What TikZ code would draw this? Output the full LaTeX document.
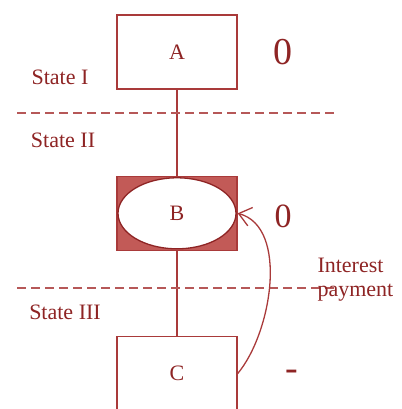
\documentclass[tikz,border=0pt]{standalone}
\usepackage{fontspec}
\setmainfont{Liberation Serif}
\usetikzlibrary{arrows.meta,positioning,shapes.geometric}
\definecolor{wine}{HTML}{A93A3A}
\definecolor{winetext}{HTML}{8E2424}
\definecolor{winefill}{HTML}{C25A57}
\tikzset{
  statebox/.style={draw=wine,line width=1.3pt,fill=white,minimum width=120pt,
                   minimum height=74pt,inner sep=0pt,text=winetext,
                   font=\fontsize{22}{24}\selectfont},
  hole/.style    ={ellipse,draw=winetext,line width=1.3pt,fill=white,minimum width=118pt,
                   minimum height=71pt,inner sep=0pt,text=winetext,
                   font=\fontsize{22}{24}\selectfont},
  divider/.style ={draw=wine!85,dash pattern=on 9pt off 5pt,line width=1.3pt},
  link/.style    ={draw=wine,line width=1.3pt},
  statelbl/.style={text=winetext,font=\fontsize{22}{24}\selectfont},
  payoff/.style  ={text=winetext,font=\fontsize{38}{40}\selectfont},
  flow/.style    ={-{Straight Barb[length=12pt,width=19pt]},line width=1.3pt,draw=wine}
}
\begin{document}
\begin{tikzpicture}[x=1pt,y=1pt,node distance=86pt]
  \useasboundingbox (0,0) rectangle (401,-409);
  % the three states
  \node[statebox] (A) at (177,-52) {A};
  \node[statebox,fill=winefill,below=of A] (B) {};
  \node[hole] (Bin) at (B.center) {B};
  \node[statebox,below=85pt of B] (C) {C};
  \draw[link] (A.south) -- (B.north);
  \draw[link] (B.south) -- (C.north);
  % state borders
  \coordinate (cutIa) at (17,-113);
  \coordinate (cutIb) at (335,-113);
  \coordinate (cutIIa) at (17,-288);
  \coordinate (cutIIb) at (335,-288);
  \draw[divider] (cutIa) -- (cutIb);
  \draw[divider] (cutIIa) -- (cutIIb);
  \node[statelbl] (s1) at (60,-77) {State I};
  \node[statelbl] (s2) at (63,-140) {State II};
  \node[statelbl] (s3) at (65,-312) {State III};
  % payoffs
  \node[payoff] (pA) at (283,-52) {0};
  \node[payoff,font=\fontsize{34}{36}\selectfont] (pB) at (283,-216) {0};
  \node[payoff] (pC) at (292,-375) {-};
  \draw[flow] (C.east) to[out=50,in=-15,looseness=0.85] (B.east);
  \node[statelbl,align=left,anchor=west] (pay) at (314,-280) {Interest\\payment};
\end{tikzpicture}
\end{document}
